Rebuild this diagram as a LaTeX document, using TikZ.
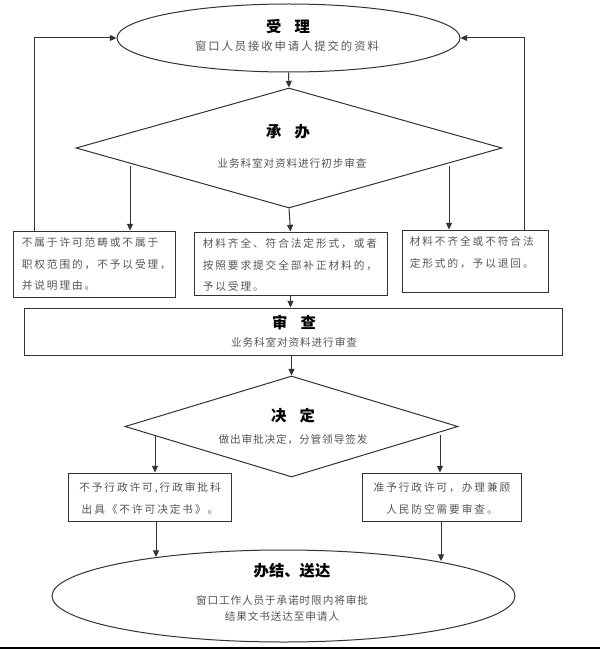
\documentclass[tikz,border=0pt]{standalone}
\usepackage{fontspec}
\setmainfont{Noto Sans CJK SC}
\newfontfamily\cjkbox[LetterSpace=18]{Noto Sans CJK SC}
\newfontfamily\cjksub[LetterSpace=8]{Noto Sans CJK SC}
\newfontfamily\cjktop[LetterSpace=17]{Noto Sans CJK SC}
\usetikzlibrary{shapes.geometric,arrows.meta}
\definecolor{ln}{HTML}{333333}
\definecolor{tx}{HTML}{555555}
\begin{document}
\begin{tikzpicture}[x=0.75pt,y=-0.75pt,
  shp/.style={draw=ln, line width=0.75pt, inner sep=0pt},
  ell/.style={shp, ellipse},
  dia/.style={shp, diamond},
  boxshape/.style={shp, rectangle},
  arr/.style={draw=ln, line width=0.75pt, -{Triangle[length=5pt,width=4.5pt]}},
  plain/.style={draw=ln, line width=0.75pt},
  title/.style={font=\bfseries\fontsize{11.5}{14}\selectfont, inner sep=0pt},
  sub/.style={font=\cjksub\fontsize{8}{12}\selectfont, text=tx, inner sep=0pt, align=center},
  topsub/.style={font=\cjktop\fontsize{8.5}{12}\selectfont, text=tx, inner sep=0pt},
  btext/.style={font=\cjkbox\fontsize{8}{16}\selectfont, text=tx, align=left, inner sep=0pt, anchor=north west},
  ctext/.style={font=\cjkbox\fontsize{8}{17}\selectfont, text=tx, align=center, inner sep=0pt}
]
\useasboundingbox (0,0) rectangle (600,649);
\fill[white] (0,0) rectangle (600,649);

% shapes
\node[ell, minimum width=343*0.75pt, minimum height=68*0.75pt] (A) at (288.5,38) {};
\node[dia, minimum width=426*0.75pt, minimum height=120*0.75pt] (B) at (289,148) {};
\node[boxshape, minimum width=162*0.75pt, minimum height=66*0.75pt] (C1) at (94,264) {};
\node[boxshape, minimum width=193*0.75pt, minimum height=63*0.75pt] (C2) at (290.5,263.5) {};
\node[boxshape, minimum width=146*0.75pt, minimum height=62*0.75pt] (C3) at (475,261) {};
\node[boxshape, minimum width=538*0.75pt, minimum height=47*0.75pt] (D) at (293,331.5) {};
\node[dia, minimum width=333*0.75pt, minimum height=101*0.75pt] (E) at (291.5,426.5) {};
\node[boxshape, minimum width=163*0.75pt, minimum height=48*0.75pt] (F1) at (149.5,497) {};
\node[boxshape, minimum width=159*0.75pt, minimum height=48*0.75pt] (F2) at (441.5,497) {};
\node[ell, minimum width=463*0.75pt, minimum height=92*0.75pt] (G) at (283.5,596) {};

% texts
\node[title] (At) at (288,27) {受\hspace{0.85em}理};
\node[topsub] (As) at (287,46) {窗口人员接收申请人提交的资料};
\node[title] (Bt) at (288,132) {承\hspace{0.85em}办};
\node[sub] (Bs) at (292,163) {业务科室对资料进行初步审查};
\node[btext] (C1t) at ([shift={(9,7)}]C1.north west) {不属于许可范畴或不属于\\职权范围的，不予以受理，\\并说明理由。};
\node[btext] (C2t) at ([shift={(9,7)}]C2.north west) {材料齐全、符合法定形式，或者\\按照要求提交全部补正材料的，\\予以受理。};
\node[btext] (C3t) at ([shift={(8,7)}]C3.north west) {材料不齐全或不符合法\\定形式的，予以退回。};
\node[title] (Dt) at (294,323) {审\hspace{0.85em}查};
\node[sub] (Ds) at (294,342) {业务科室对资料进行审查};
\node[title] (Et) at (293,416) {决\hspace{0.85em}定};
\node[sub] (Es) at (293,440) {做出审批决定，分管领导签发};
\node[ctext] (F1t) at (150,498.5) {不予行政许可,行政审批科\\出具《不许可决定书》。};
\node[ctext] (F2t) at (442,498.5) {准予行政许可，办理兼顾\\人民防空需要审查。};
\node[title] (Gt) at (292,571) {办结、送达};
\node[sub, font=\cjksub\fontsize{8}{12}\selectfont] (Gs) at (282,608) {窗口工作人员于承诺时限内将审批\\结果文书送达至申请人};

% connectors
\draw[arr] (A.south) -- (B.north);
\coordinate (b1) at (130,166);
\coordinate (b3) at (449,166);
\draw[arr] (b1) -- (b1 |- C1.north);
\draw[arr] (B.south) -- (C2.north);
\draw[arr] (b3) -- (b3 |- C3.north);
\coordinate (lx) at (34,38);
\coordinate (rx) at (524,38);
\draw[arr] (lx |- C1.north) -- (lx) -- (A.west);
\draw[arr] (rx |- C3.north) -- (rx) -- (A.east);
\draw[arr] (C2.south) -- (C2.south |- D.north);
\draw[arr] (D.south -| E.north) -- (E.north);
\coordinate (e1) at (155,435);
\coordinate (e2) at (440,435);
\draw[arr] (e1) -- (e1 |- F1.north);
\draw[arr] (e2) -- (e2 |- F2.north);
\coordinate (g1) at (156,557);
\coordinate (g2) at (441,561);
\draw[arr] (g1 |- F1.south) -- (g1);
\draw[arr] (g2 |- F2.south) -- (g2);

% bottom border line
\draw[black, line width=1.2pt] (0,647.8) -- (600,647.8);
\end{tikzpicture}
\end{document}
